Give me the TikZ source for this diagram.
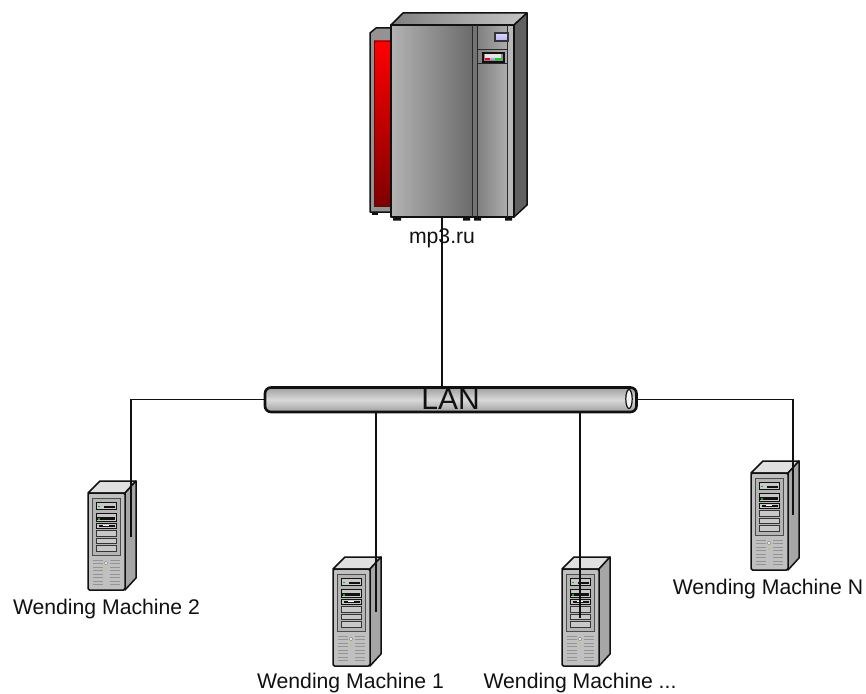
\documentclass[tikz,border=0pt]{standalone}
\usepackage{fontspec}
\setmainfont{Liberation Sans}
\definecolor{edge}{HTML}{111111}
\definecolor{caseface}{HTML}{C0C0C0}
\definecolor{caseside}{HTML}{A6A6A6}
\definecolor{casetop}{HTML}{E0E0E0}
\definecolor{bayface}{HTML}{B4B4B4}
\definecolor{slotface}{HTML}{C8C8C8}
\tikzset{
  wire/.style={draw=edge,line width=1.8pt},
  lbl/.style={inner sep=0pt,anchor=base,font=\fontsize{21.2}{25}\selectfont,text=edge},
  anchorpt/.style={inner sep=0pt,minimum size=0pt},
  towerline/.style={draw=edge,line width=1.5pt,line join=round},
  thin box/.style={draw=edge!75,line width=.8pt},
  pics/tower/.style={code={
    \fill[casetop,towerline] (0,12) -- (12,0) -- (48,0) -- (37,12) -- cycle;
    \fill[caseside,towerline] (37,12) -- (48,0) -- (48,97) -- (37,109) -- cycle;
    \fill[caseface,towerline,rounded corners=1.5pt] (0,12) rectangle (37,109);
    \fill[bayface,thin box] (4,17) rectangle (32,74);
    \foreach \y/\h in {21/7,32/8,42/5}{
      \fill[slotface,draw=edge,line width=.9pt] (8,\y) rectangle (28,\y+\h);
    }
    \fill[edge] (16,24.5) rectangle (27,26.5);
    \fill[edge] (9,35.5) rectangle (27,38.5);
    \fill[edge] (11,43.5) rectangle (27,46);
    \fill[white] (15,44) rectangle (21,45);
    \fill[green!75!black] (9.5,24.5) rectangle (11.5,26);
    \fill[green!75!black] (9.5,37) rectangle (11.5,38.5);
    \foreach \y/\h in {49/6,57/5.5,64/6}{
      \fill[slotface,draw=edge!85,line width=.8pt] (8,\y) rectangle (28,\y+\h);
    }
    \foreach \y in {79,82.5,...,104}{
      \draw[edge!45,line width=.8pt] (4.5,\y) -- (15,\y);
      \draw[edge!45,line width=.8pt] (22,\y) -- (32,\y);
    }
    \fill[white!85!gray,draw=gray,line width=.4pt] (18,82) circle (1.9);
    \fill[yellow!70!green] (18,88) circle (1);
  }}
}
\begin{document}
\begin{tikzpicture}[x=1pt,y=-1pt]
\useasboundingbox (0,0) rectangle (866,693);
\fill[white] (0,0) rectangle (866,693);

% ---- main server
\begin{scope}[shift={(370,13)}]
  \fill[edge] (2,198) rectangle (8,202);
  \fill[gray!85,towerline] (0,20) -- (6,15) -- (22,15) -- (22,199) -- (0,199) -- cycle;
  \shade[top color=red,bottom color=red!50!black,draw=edge!70!red,line width=.8pt] (4,28) rectangle (22,193);
  \shade[left color=gray!100,right color=gray!45,draw=edge,line width=1.5pt,line join=round] (21,12) -- (33,0) -- (157,0) -- (144,12) -- cycle;
  \fill[black!62,towerline] (144,12) -- (157,0) -- (157,192) -- (144,204) -- cycle;
  \shade[left color=gray!60,right color=black!58] (21,12) rectangle (102,204);
  \fill[black!55] (102,12) rectangle (107,204);
  \shade[left color=gray!100,right color=gray!65] (107,12) rectangle (137,204);
  \fill[gray!55] (137,12) rectangle (144,204);
  \fill[edge] (23,204) rectangle (31,207.5) (93,204) rectangle (100,207.5) (104,204) rectangle (111,207.5) (135,204) rectangle (142,207.5);
  \draw[towerline] (21,12) rectangle (144,204);
  \draw[edge!90,line width=1pt] (102,12) -- (102,204) (107,12) -- (107,204) (137,12) -- (137,204);
  \draw[edge!90,line width=.9pt] (107,36) -- (137,36) (107,50) -- (137,50);
  \shade[top color=blue!15!white,bottom color=blue!30!white,draw=edge!85,line width=1.1pt] (125,20) rectangle (138,28);
  \fill[gray!90,draw=edge,line width=1.1pt] (113,40) rectangle (134,49);
  \fill[gray!20] (115,41.5) rectangle (131,47);
  \fill[red] (115,45) rectangle (120,47);
  \fill[blue!35] (120,45) rectangle (125,47);
  \fill[green!90!black] (125,44.5) rectangle (131,47);
\end{scope}
\node[anchorpt] (server) at (442,217) {};
\node[lbl] (serverlabel) at (442,243) {mp3.ru};

% ---- towers
\pic at (88,481) {tower};
\pic at (333,557) {tower};
\pic at (562,557) {tower};
\pic at (751,461) {tower};
\node[anchorpt] (m2) at (131,537) {};
\node[anchorpt] (m1) at (376,612) {};
\node[anchorpt] (mx) at (580,618) {};
\node[anchorpt] (mn) at (793,515) {};
\node[lbl] (m2label) at (106.5,614) {Wending Machine 2};
\node[lbl] (m1label) at (350.5,688) {Wending Machine 1};
\node[lbl] (mxlabel) at (580,688) {Wending Machine ...};
\node[lbl] (mnlabel) at (768,594) {Wending Machine N};

% ---- bus
\shade[top color=gray!75,bottom color=gray!75,middle color=gray!30,rounded corners=6pt] (265,387.5) rectangle (636.5,412);
\node[anchorpt] (lanw) at (265,399.5) {};
\node[anchorpt] (lane) at (637,399.5) {};
\node[anchorpt] (lans) at (442,387) {};
\node[anchorpt] (lanb1) at (376,412) {};
\node[anchorpt] (lanb2) at (580,412) {};
\draw[wire] (server.center) -- (lans.center);
\draw[wire] (lanw.center) -| (m2.center);
\draw[wire] (lane.center) -| (mn.center);
\draw[wire] (lanb1.center) -- (m1.center);
\draw[wire] (lanb2.center) -- (mx.center);
\draw[draw=edge,line width=2.6pt,rounded corners=6pt] (265,387.5) rectangle (636.5,412);
\fill[white!90!gray,draw=edge,line width=1.2pt] (629,399) ellipse (3.2 and 9.5);
\node[inner sep=0pt,anchor=base,font=\fontsize{30}{34}\selectfont,text=edge] (lan) at (450.5,409) {LAN};
\end{tikzpicture}
\end{document}
